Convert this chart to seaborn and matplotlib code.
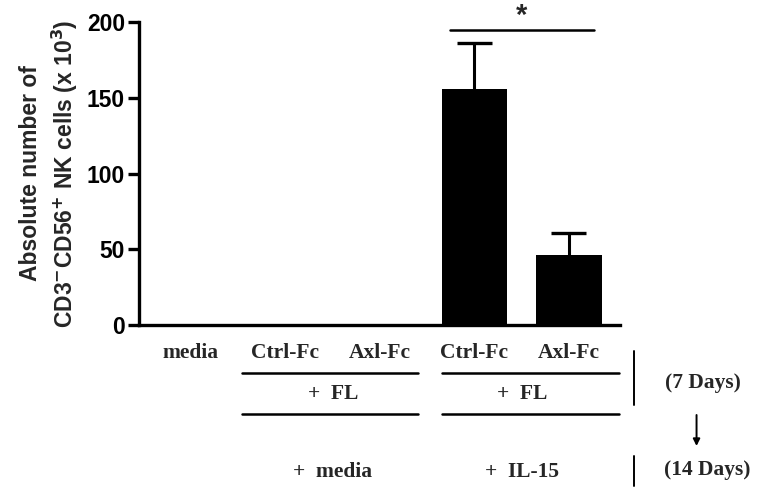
import matplotlib
matplotlib.use("Agg")
import matplotlib.pyplot as plt
import seaborn as sns
import pandas as pd

sns.set_theme(style="ticks")
plt.rcParams["font.family"] = ["Liberation Sans", "DejaVu Sans"]

# data
groups = ["media", "FL Ctrl-Fc", "FL Axl-Fc", "IL15 Ctrl-Fc", "IL15 Axl-Fc"]
labels = ["media", "Ctrl-Fc", "Axl-Fc", "Ctrl-Fc", "Axl-Fc"]
means = [0, 0, 0, 156, 46]
sems = [0, 0, 0, 30, 15]
yticks = [0, 50, 100, 150, 200]

df = pd.DataFrame({"group": groups, "value": means, "sem": sems})

fig = plt.figure(figsize=(7.57, 4.90), dpi=100)
ax = fig.add_axes([139 / 757, 1 - 325 / 490, (620 - 139) / 757, 303 / 490])

sns.barplot(data=df, x="group", y="value", order=groups, color="black",
            width=0.69, errorbar=None, saturation=1, linewidth=0, ax=ax,
            zorder=3)

# upper-only error bars with caps
err = df[df["sem"] > 0]
pos = [groups.index(g) for g in err["group"]]
tops = err["value"] + err["sem"]
ax.vlines(pos, err["value"], tops, color="black", lw=2.2, zorder=2)
ax.hlines(tops, [p - 0.185 for p in pos], [p + 0.185 for p in pos],
          color="black", lw=2.4, zorder=2)

ax.set_xlim(-0.55, 4.54)
ax.set_ylim(0, 200)
ax.set_yticks(yticks)
sns.despine(ax=ax)
for s in ["left", "bottom"]:
    ax.spines[s].set_linewidth(2.4)
    ax.spines[s].set_color("black")
    ax.spines[s].set_zorder(4)
ax.tick_params(axis="y", length=8, width=2.4, labelsize=16.5, pad=2, colors="black")
ax.tick_params(axis="x", bottom=False, labelbottom=False)
for t in ax.get_yticklabels():
    t.set_fontweight("bold")
ax.set_xlabel("")
ax.set_ylabel("Absolute number of\nCD3$^{\\mathbf{-}}$CD56$^{\\mathbf{+}}$ NK cells (x 10$^{\\mathbf{3}}$)",
              fontsize=16.5, fontweight="bold", labelpad=5, linespacing=1.35)

# significance bar
ax.plot([2.74, 4.26], [194.7, 194.7], color="black", lw=1.8, clip_on=False)
ax.text(3.5, 204, "*", ha="center", va="center", fontsize=21, fontweight="bold",
        clip_on=False)

# condition labels below the axis
tr = ax.get_xaxis_transform()
serif = dict(family=["Liberation Serif", "DejaVu Serif"], fontweight="bold",
             fontsize=15.5, ha="center", va="center", transform=tr, clip_on=False)


def yf(py):
    return -(py - 325) / 303


for i, lab in enumerate(labels):
    ax.text(i, yf(353), lab, **serif)

for x0, x1, xm, bottom in [(0.54, 2.40, 1.5, "+  media"), (2.66, 4.53, 3.5, "+  IL-15")]:
    for py in (373, 414):
        ax.plot([x0, x1], [yf(py), yf(py)], color="black", lw=1.8,
                transform=tr, clip_on=False)
    ax.text(xm, yf(394), "+  FL", **serif)
    ax.text(xm, yf(472), bottom, **serif)

ax.plot([4.69, 4.69], [yf(351), yf(405)], color="black", lw=1.4,
        transform=tr, clip_on=False)
ax.plot([4.69, 4.69], [yf(456), yf(486)], color="black", lw=1.4,
        transform=tr, clip_on=False)
ax.text(5.42, yf(383), "(7 Days)", **serif)
ax.text(5.46, yf(470), "(14 Days)", **serif)
ax.annotate("", xy=(5.35, yf(446)), xytext=(5.35, yf(415)), xycoords=tr,
            textcoords=tr, annotation_clip=False,
            arrowprops=dict(arrowstyle="-|>", color="black", lw=1.4,
                            mutation_scale=10, shrinkA=0, shrinkB=0))

fig.savefig("out.png", dpi=100)
